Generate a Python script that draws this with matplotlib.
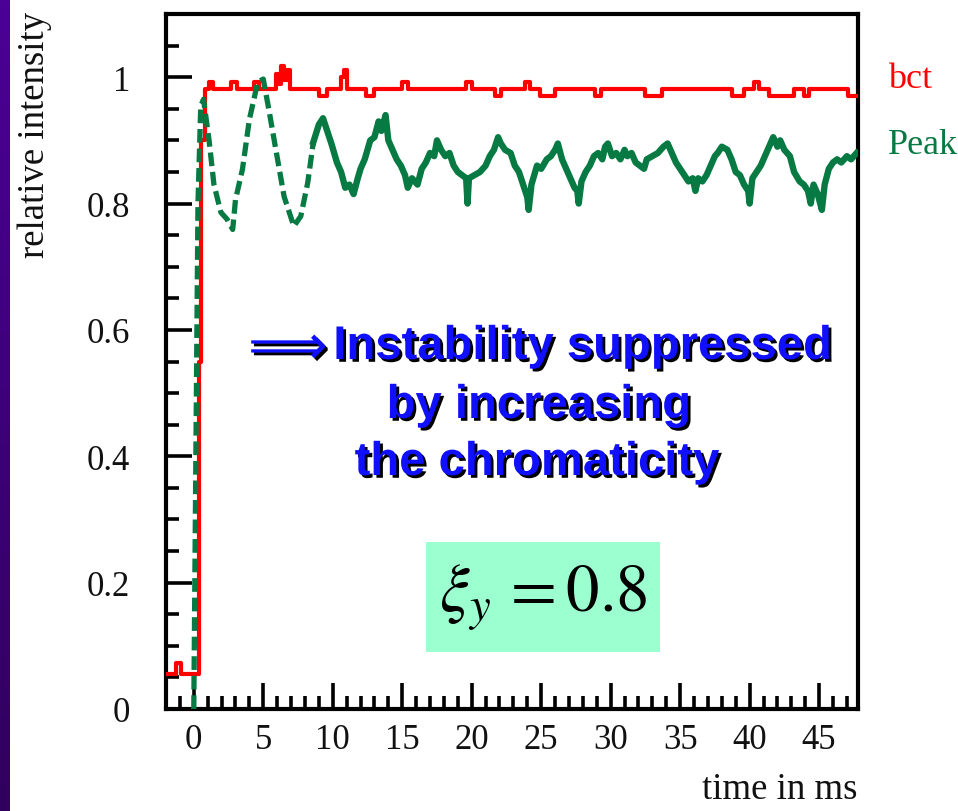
import numpy as np
import matplotlib
matplotlib.use("Agg")
import matplotlib.pyplot as plt
import matplotlib.patheffects as pe
from matplotlib.patches import Rectangle

# bct (beam current) trace
bct_t = [-2.0, -1.4, -1.3, -1.0, -0.9, 0.25, 0.35, 0.55, 0.8, 1.1, 1.4, 2.7, 3.1, 4.3, 4.7,
         5.9, 6.1, 6.3, 6.5, 6.7, 6.9, 9.0, 9.6, 10.6, 10.8, 11.0, 12.4, 13.0, 15.0, 15.4,
         19.6, 20.0, 21.7, 22.1, 23.8, 24.2, 24.9, 26.0, 28.9, 29.3, 32.5, 33.7, 38.7, 39.6,
         40.3, 40.7, 41.4, 43.2, 43.9, 44.3, 47.1, 47.8]
bct_v = [0.056, 0.056, 0.073, 0.073, 0.056, 0.056, 0.55, 0.90, 0.981, 0.992, 0.981, 0.992, 0.981, 0.992, 0.981,
         1.005, 0.990, 1.017, 0.995, 1.012, 0.981, 0.970, 0.981, 1.000, 1.012, 0.981, 0.970, 0.981, 0.992, 0.981,
         0.992, 0.981, 0.970, 0.981, 0.992, 0.981, 0.970, 0.981, 0.970, 0.981, 0.970, 0.981, 0.970, 0.981,
         0.992, 0.981, 0.970, 0.981, 0.970, 0.981, 0.970, 0.970]

# Peak signal, first part (clearly dashed oscillation)
peak_t1 = [0.0, 0.15, 0.3, 0.5, 0.7, 1.1, 1.45, 1.95, 2.4, 2.8, 3.0, 3.5, 4.0, 4.6, 5.0,
           5.4, 5.9, 6.5, 7.2, 7.7, 8.2, 8.6]
peak_v1 = [0.0, 0.40, 0.80, 0.954, 0.965, 0.90, 0.83, 0.786, 0.775, 0.759, 0.806, 0.854, 0.933, 0.992, 0.997,
           0.949, 0.886, 0.811, 0.764, 0.78, 0.833, 0.897]

# Peak signal, later part (noisy, looks solid)
peak_t2 = [8.6, 9.0, 9.3, 9.6, 9.9, 10.3, 10.6, 10.9, 11.2, 11.5, 11.8, 12.0, 12.3, 12.7, 13.0,
           13.3, 13.5, 13.8, 14.0, 14.3, 14.6, 14.9, 15.2, 15.4, 15.7, 16.1, 16.4, 16.7, 17.0,
           17.3, 17.5, 17.8, 18.1, 18.4, 18.7, 19.0, 19.3, 19.6, 19.7, 19.8, 20.2, 20.6, 21.0,
           21.3, 21.6, 21.9, 22.1, 22.4, 22.8, 23.1, 23.4, 23.7, 24.0, 24.1, 24.3, 24.7, 25.0,
           25.4, 25.7, 26.0, 26.2, 26.5, 26.8, 27.1, 27.4, 27.6, 27.7, 27.9, 28.2, 28.5, 28.8,
           29.1, 29.4, 29.6, 29.8, 30.1, 30.4, 30.7, 31.0, 31.2, 31.5, 31.8, 32.1, 32.4, 32.6,
           33.0, 33.4, 33.8, 34.1, 34.4, 34.7, 35.0, 35.3, 35.6, 35.9, 36.1, 36.3, 36.6, 36.9,
           37.2, 37.5, 37.7, 38.0, 38.4, 38.7, 39.0, 39.3, 39.6, 39.9, 40.0, 40.2, 40.5, 40.8,
           41.1, 41.4, 41.7, 42.0, 42.2, 42.5, 42.9, 43.2, 43.6, 43.9, 44.2, 44.4, 44.6, 44.9,
           45.2, 45.4, 45.7, 46.0, 46.3, 46.6, 47.0, 47.3, 47.7]
peak_v2 = [0.897, 0.925, 0.935, 0.915, 0.895, 0.865, 0.85, 0.825, 0.83, 0.815, 0.84, 0.855, 0.87, 0.90, 0.905,
           0.93, 0.915, 0.94, 0.90, 0.885, 0.87, 0.86, 0.845, 0.825, 0.84, 0.83, 0.855, 0.865, 0.88,
           0.875, 0.90, 0.885, 0.875, 0.88, 0.86, 0.85, 0.845, 0.84, 0.80, 0.84, 0.845, 0.85, 0.86,
           0.875, 0.885, 0.905, 0.895, 0.885, 0.88, 0.86, 0.85, 0.83, 0.81, 0.79, 0.83, 0.86, 0.855,
           0.87, 0.875, 0.885, 0.895, 0.87, 0.855, 0.84, 0.825, 0.82, 0.80, 0.835, 0.85, 0.86, 0.875,
           0.88, 0.87, 0.89, 0.895, 0.875, 0.88, 0.87, 0.885, 0.875, 0.88, 0.865, 0.86, 0.855, 0.87,
           0.875, 0.88, 0.89, 0.895, 0.88, 0.865, 0.855, 0.845, 0.835, 0.84, 0.82, 0.84, 0.835, 0.845,
           0.86, 0.875, 0.88, 0.89, 0.885, 0.87, 0.85, 0.845, 0.83, 0.82, 0.80, 0.84, 0.85, 0.86,
           0.875, 0.89, 0.905, 0.89, 0.90, 0.885, 0.875, 0.85, 0.835, 0.83, 0.82, 0.80, 0.83, 0.815,
           0.79, 0.83, 0.855, 0.865, 0.87, 0.865, 0.875, 0.87, 0.88]

xticks = [0, 5, 10, 15, 20, 25, 30, 35, 40, 45]
yticks = [0, 0.2, 0.4, 0.6, 0.8, 1.0]
ytick_labels = ["0", "0.2", "0.4", "0.6", "0.8", "1"]

red = "#ff0000"
green = "#067a42"
serif = "Liberation Serif"

fig = plt.figure(figsize=(9.58, 8.12), dpi=100)

# purple slide edge on the left
strip = fig.add_axes([0, 0, 10 / 958, 1])
strip.imshow(np.linspace(0, 1, 100).reshape(-1, 1), aspect="auto",
             cmap=matplotlib.colors.LinearSegmentedColormap.from_list("p", ["#4b0096", "#30005e"]))
strip.axis("off")

ax = fig.add_axes([166 / 958, 1 - 710 / 812, (858 - 166) / 958, (710 - 15) / 812])
ax.plot(bct_t, bct_v, color=red, lw=3.0, drawstyle="steps-post", zorder=3)
ax.plot(peak_t1, peak_v1, color=green, lw=3.8, linestyle=(0, (2.6, 1.1)), zorder=4)
ax.plot(peak_t2, peak_v2, color=green, lw=4.6, zorder=4)

ax.set_xlim(-2, 47.8)
ax.set_ylim(0, 1.1)
ax.set_xticks(xticks)
ax.set_xticks(np.arange(-1, 48, 1), minor=True)
ax.set_yticks(yticks)
ax.set_yticklabels(ytick_labels)
ax.set_yticks(np.arange(0, 1.1, 0.05), minor=True)
ax.tick_params(which="both", direction="in", top=False, right=False, width=2.6, color="black")
ax.tick_params(which="major", length=19)
ax.tick_params(which="minor", length=9.5)
ax.tick_params(axis="y", pad=26)
ax.tick_params(axis="x", pad=10)
for lab in ax.get_xticklabels() + ax.get_yticklabels():
    lab.set_fontfamily(serif)
    lab.set_fontsize(25)
    lab.set_color("#111111")
for s in ax.spines.values():
    s.set_linewidth(3)

# axis titles
fig.text(35 / 958, 1 - 12 / 812, "relative intensity", rotation=90, ha="center", va="top",
         family=serif, fontsize=26.5, color="#111111")
fig.text(858 / 958, 1 - 790 / 812, "time in ms", ha="right", va="center",
         family=serif, fontsize=26.5, color="#111111")

# curve labels
fig.text(888 / 958, 1 - 80 / 812, "bct", ha="left", va="center", family=serif, fontsize=26, color=red)
fig.text(888 / 958, 1 - 146 / 812, "Peak", ha="left", va="center", family=serif, fontsize=26, color=green)

# annotation text with drop shadow
shadow = [pe.withSimplePatchShadow(offset=(2, -2), shadow_rgbFace="black", alpha=1.0)]
blue = "#1010ff"
fig.text(282 / 958, 1 - 350 / 812, r"$\Longrightarrow$", ha="center", va="center",
         fontsize=40, color=blue, path_effects=shadow)
fig.text(583 / 958, 1 - 348 / 812, "Instability suppressed", ha="center", va="center",
         family="Liberation Sans", weight="bold", fontsize=34, color=blue, path_effects=shadow)
fig.text(539 / 958, 1 - 407 / 812, "by increasing", ha="center", va="center",
         family="Liberation Sans", weight="bold", fontsize=34, color=blue, path_effects=shadow)
fig.text(537 / 958, 1 - 464 / 812, "the chromaticity", ha="center", va="center",
         family="Liberation Sans", weight="bold", fontsize=34, color=blue, path_effects=shadow)

# chromaticity box
fig.patches.append(Rectangle((426 / 958, 1 - 653 / 812), (660 - 426) / 958, (653 - 543) / 812,
                             transform=fig.transFigure, facecolor="#9bffcf", edgecolor="none", zorder=5))
plt.rcParams["mathtext.fontset"] = "stix"
fig.text(543 / 958, 1 - 598 / 812, r"$\xi_y\, = 0.8$", ha="center", va="center",
         fontsize=48, color="black", zorder=6)

fig.savefig("out.png", dpi=100)
